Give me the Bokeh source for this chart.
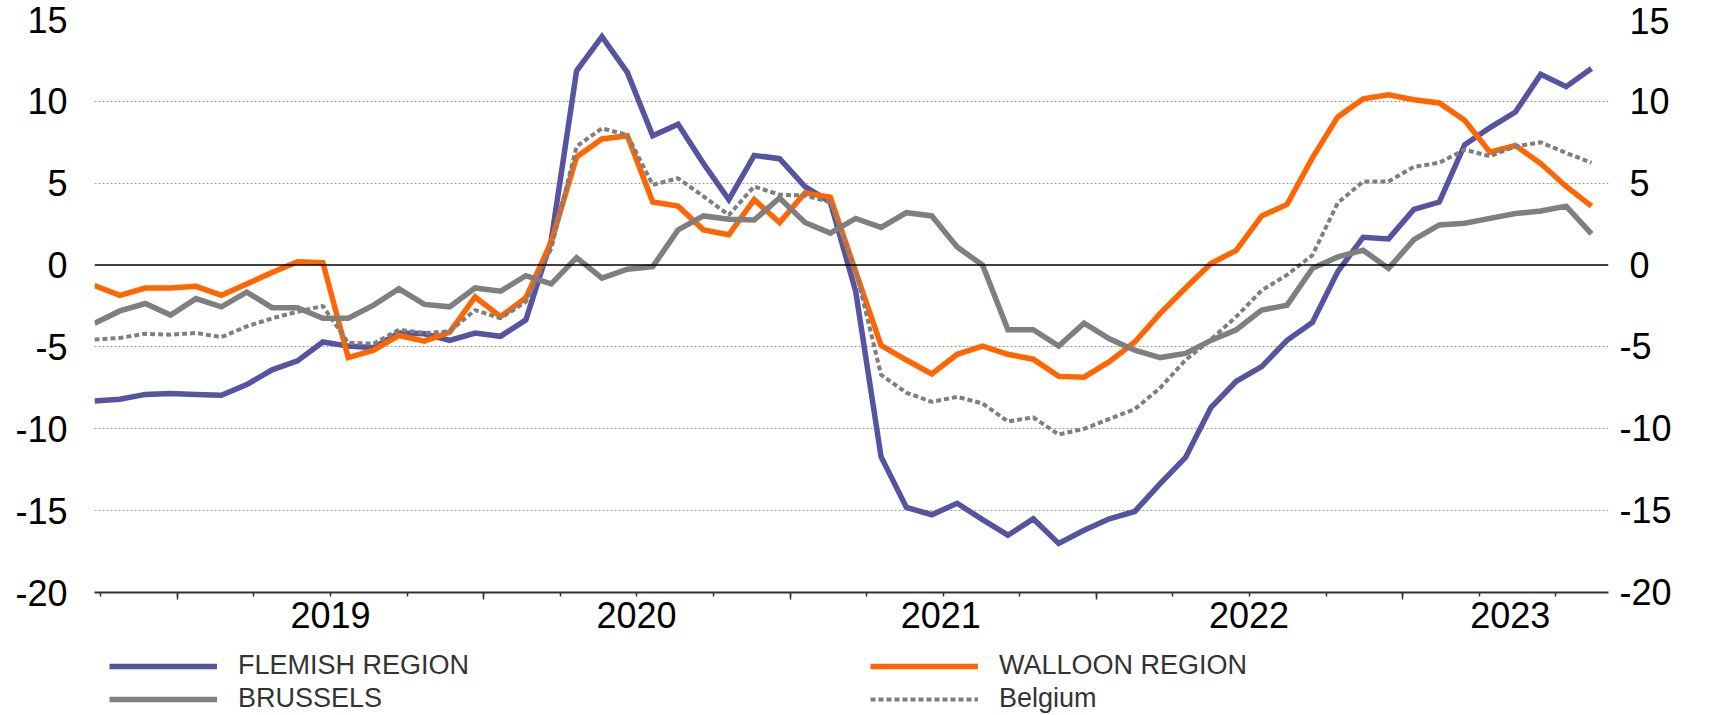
from bokeh.plotting import figure
from bokeh.layouts import column
from bokeh.models import Range1d, LinearAxis, FixedTicker, Span, Legend, LegendItem
from bokeh.embed import file_html
from bokeh.resources import INLINE

# ---------------- data (monthly, 60 observations) ----------------
months = list(range(60))

flemish = [-8.3, -8.2, -7.9, -7.85, -7.9, -7.95, -7.3, -6.4, -5.85, -4.7,
           -4.95, -5.05, -4.15, -4.2, -4.6, -4.15, -4.35, -3.35, 1.5, 11.87,
           13.95, 11.77, 7.9, 8.6, 6.2, 4.0, 6.7, 6.5, 4.8, 3.85,
           -1.6, -11.7, -14.8, -15.25, -14.55, -15.55, -16.5, -15.5, -17.0, -16.2,
           -15.5, -15.05, -13.35, -11.75, -8.7, -7.1, -6.2, -4.6, -3.5, -0.4,
           1.7, 1.6, 3.4, 3.85, 7.35, 8.4, 9.35, 11.65, 10.9, 12.0]

walloon = [-1.25, -1.85, -1.4, -1.4, -1.3, -1.85, -1.15, -0.45, 0.2, 0.15,
           -5.65, -5.2, -4.3, -4.65, -4.1, -1.95, -3.15, -2.0, 1.4, 6.6,
           7.7, 7.9, 3.85, 3.6, 2.15, 1.85, 4.0, 2.6, 4.4, 4.15,
           -0.4, -4.9, -5.8, -6.65, -5.45, -4.95, -5.45, -5.75, -6.8, -6.85,
           -5.9, -4.7, -2.95, -1.4, 0.1, 0.9, 3.0, 3.7, 6.55, 9.05,
           10.15, 10.4, 10.1, 9.9, 8.85, 6.9, 7.3, 6.2, 4.8, 3.6]

brussels = [-3.55, -2.8, -2.35, -3.05, -2.05, -2.55, -1.65, -2.6, -2.6, -3.25,
            -3.25, -2.45, -1.45, -2.4, -2.55, -1.4, -1.6, -0.65, -1.15, 0.45,
            -0.8, -0.25, -0.1, 2.15, 3.0, 2.8, 2.75, 4.1, 2.6, 1.95,
            2.85, 2.3, 3.2, 3.0, 1.1, 0.0, -3.95, -3.95, -4.95, -3.55,
            -4.5, -5.2, -5.65, -5.4, -4.6, -3.95, -2.75, -2.45, -0.2, 0.5,
            0.9, -0.2, 1.55, 2.45, 2.55, 2.85, 3.15, 3.3, 3.6, 1.9]

belgium = [-4.55, -4.45, -4.2, -4.25, -4.15, -4.4, -3.75, -3.25, -2.85, -2.5,
           -4.75, -4.8, -3.95, -4.15, -4.05, -2.75, -3.25, -2.25, 1.0, 7.25,
           8.35, 7.95, 4.9, 5.3, 4.2, 3.05, 4.8, 4.3, 4.25, 3.85,
           -0.3, -6.7, -7.8, -8.35, -8.05, -8.45, -9.55, -9.3, -10.35, -10.0,
           -9.4, -8.8, -7.5, -5.8, -4.55, -3.15, -1.55, -0.6, 0.6, 3.8,
           5.1, 5.1, 6.0, 6.25, 7.05, 6.65, 7.25, 7.5, 6.85, 6.25]

series_names = ["FLEMISH REGION", "WALLOON REGION", "BRUSSELS", "Belgium"]
year_labels = ["2019", "2020", "2021", "2022", "2023"]
y_ticks = [-20, -15, -10, -5, 0, 5, 10, 15]

# ---------------- layout / style ----------------
FONT = "Liberation Sans"
FS = "36px"
FS_LEG = "27px"
W = 1699
H_MAIN = 647
H_LEG = 68
tick_offset = 0.25
tick_step = 3.018
quarter_ticks = [tick_offset + tick_step * k for k in range(20)]
year_ticks = [quarter_ticks[1 + 4 * k] for k in range(5)]
label_pos = [9.3, 21.36, 33.35, 45.5, 55.8]

styles = {
    "FLEMISH REGION": dict(line_color="#5454a0", line_width=5.5, line_join="miter"),
    "WALLOON REGION": dict(line_color="#ff6600", line_width=5.5, line_join="miter"),
    "BRUSSELS": dict(line_color="#7f7f7f", line_width=5.5, line_join="miter"),
    "Belgium": dict(line_color="#7f7f7f", line_width=4, line_dash="5 3"),
}

p = figure(width=W, height=H_MAIN,
           x_range=Range1d(0, 59.67), y_range=Range1d(-20, 15),
           output_backend="svg", toolbar_location=None,
           min_border_left=94, min_border_right=91,
           min_border_top=19, min_border_bottom=55)
p.outline_line_color = None
p.background_fill_color = "white"
p.border_fill_color = "white"

# grid
p.xgrid.visible = False
p.ygrid.ticker = FixedTicker(ticks=[t for t in y_ticks if t not in (0, -20)])
p.ygrid.grid_line_color = "#9a9a9a"
p.ygrid.grid_line_dash = "2 2"
p.ygrid.grid_line_width = 1

# y axes (left + right)
def style_y(ax, standoff, overrides):
    ax.ticker = FixedTicker(ticks=y_ticks)
    ax.axis_line_color = None
    ax.major_tick_line_color = None
    ax.minor_tick_line_color = None
    ax.major_tick_out = 0
    ax.major_tick_in = 0
    ax.minor_tick_out = 0
    ax.major_label_standoff = standoff
    ax.major_label_text_font = FONT
    ax.major_label_text_font_size = FS
    ax.major_label_text_color = "#000000"
    ax.major_label_overrides = overrides

style_y(p.yaxis[0], 27, {t: str(t) for t in y_ticks})
ry = LinearAxis()
style_y(ry, 11, {t: (str(t) if t < 0 else "\u00a0" + str(t)) for t in y_ticks})
p.add_layout(ry, "right")

# x axis: tick marks (quarters short, year boundaries long)
xa = p.xaxis[0]
xa.ticker = FixedTicker(ticks=year_ticks, minor_ticks=quarter_ticks)
xa.axis_line_color = "#333333"
xa.axis_line_width = 2
xa.major_tick_line_color = "#333333"
xa.major_tick_line_width = 1.5
xa.major_tick_out = 7
xa.major_tick_in = 0
xa.minor_tick_line_color = "#333333"
xa.minor_tick_line_width = 1.5
xa.minor_tick_out = 4
xa.minor_tick_in = 0
xa.major_label_text_font_size = "1px"
xa.major_label_text_color = None
xa.major_label_standoff = 0

# x axis: year labels
xl = LinearAxis(ticker=FixedTicker(ticks=label_pos),
                major_label_overrides={pos: lab for pos, lab in zip(label_pos, year_labels)})
xl.axis_line_color = None
xl.major_tick_line_color = None
xl.minor_tick_line_color = None
xl.major_tick_out = 0
xl.major_tick_in = 0
xl.minor_tick_out = 0
xl.major_label_standoff = 2
xl.major_label_text_font = FONT
xl.major_label_text_font_size = FS
xl.major_label_text_color = "#000000"
p.add_layout(xl, "below")

# zero line
p.add_layout(Span(location=0, dimension="width", line_color="#000000", line_width=1.6))

# series
series = {"FLEMISH REGION": flemish, "WALLOON REGION": walloon,
          "BRUSSELS": brussels, "Belgium": belgium}
for name in series_names:
    p.line(months, series[name], **styles[name])

# ---------------- legend strip below the chart ----------------
# same series drawn in a strip whose y-range lies far outside the data,
# so only the legend samples are visible
lg = figure(width=W, height=H_LEG, x_range=Range1d(0, 1), y_range=Range1d(1000, 1001),
            x_axis_type=None, y_axis_type=None,
            output_backend="svg", toolbar_location=None, min_border=0)
lg.outline_line_color = None
lg.background_fill_color = "white"
lg.border_fill_color = "white"
lg.grid.visible = False

# (x, y) offsets of each legend entry, relative to the aligned frame
legend_slots = {"FLEMISH REGION": (15, 34), "BRUSSELS": (15, 1),
                "WALLOON REGION": (776, 34), "Belgium": (776, 1)}
for name in series_names:
    r = lg.line(months, series[name], **styles[name])
    leg = Legend(items=[LegendItem(label=name, renderers=[r])],
                 location=legend_slots[name], orientation="vertical",
                 glyph_width=108, glyph_height=20, label_standoff=21,
                 padding=0, margin=0, border_line_color=None, background_fill_alpha=0,
                 label_text_font=FONT, label_text_font_size=FS_LEG,
                 label_text_color="#333333")
    lg.add_layout(leg)

layout = column(p, lg, spacing=0)
open("out.html", "w").write(file_html(layout, INLINE))
